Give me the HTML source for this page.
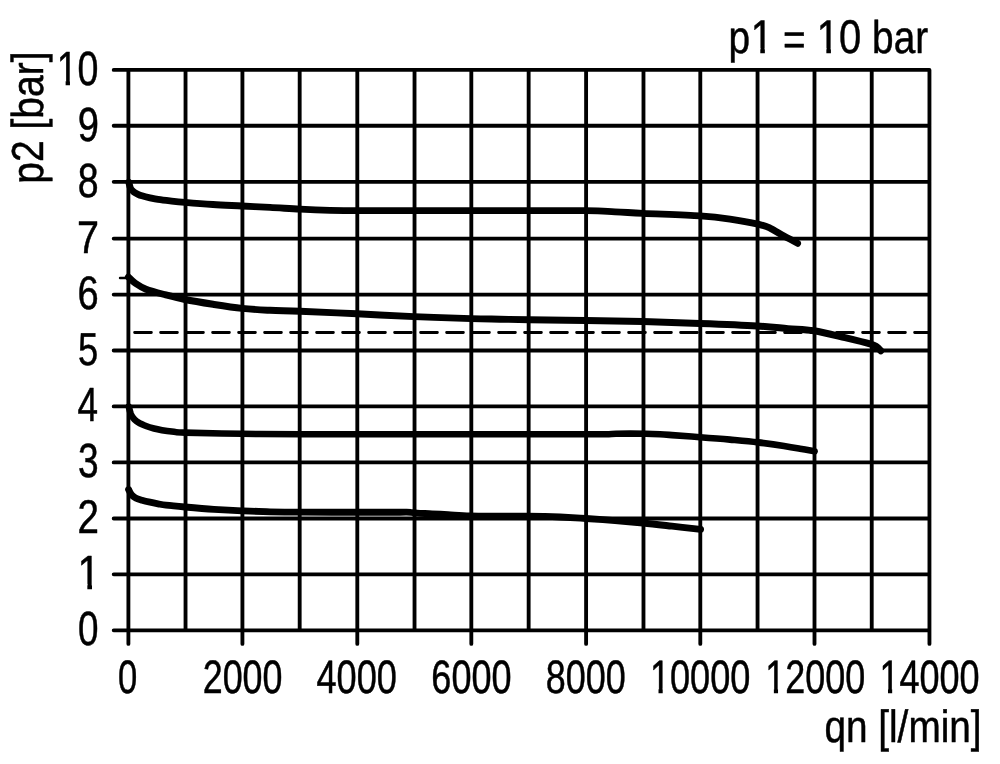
<!DOCTYPE html>
<html lang="en">
<head>
<meta charset="utf-8">
<title>p2 / qn flow characteristic</title>
<style>
html,body{margin:0;padding:0;background:#fff;}
body{width:1000px;height:764px;overflow:hidden;}
svg{display:block;}
text{font-family:"Liberation Sans",Arial,Helvetica,sans-serif;font-size:100px;fill:#000;stroke:#000;stroke-width:1.1px;stroke-linejoin:round;font-kerning:none;text-rendering:geometricPrecision;}
.g{stroke:#000;stroke-width:3.85;fill:none;stroke-linecap:round;}
.c{stroke:#000;fill:none;stroke-linecap:round;stroke-linejoin:round;}
.d{stroke:#000;stroke-width:2.8;fill:none;stroke-dasharray:16.8 9.2;stroke-linecap:round;}
.w{fill:#fff;}
</style>
</head>
<body>
<svg width="1000" height="764" viewBox="0 0 1000 764">
<rect width="1000" height="764" fill="#fff"/>
<path class="g" stroke-linejoin="round" d="M113.7 69.88 H929.45 V643.9 M113.7 125.73 H929.45 M113.7 181.87 H929.45 M113.7 238.60 H929.45 M113.7 294.55 H929.45 M113.7 350.50 H929.45 M113.7 406.40 H929.45 M113.7 462.40 H929.45 M113.7 518.45 H929.45 M113.7 574.35 H929.45 M113.7 630.37 H929.45 M128.40 69.88 V643.90 M185.53 69.88 V630.37 M242.42 69.88 V643.90 M299.68 69.88 V630.37 M357.30 69.88 V643.90 M414.53 69.88 V630.37 M471.32 69.88 V643.90 M528.65 69.88 V630.37 M586.10 69.88 V643.90 M643.48 69.88 V630.37 M700.30 69.88 V643.90 M757.55 69.88 V630.37 M814.50 69.88 V643.90 M871.73 69.88 V630.37"/>
<line class="d" x1="134.6" y1="332.5" x2="928.45" y2="332.5"/>
<line x1="120" y1="278" x2="128" y2="278" stroke="#000" stroke-width="2.4" stroke-linecap="round"/>
<path class="c" stroke-width="6.85" d="M128.8 182.2 C129.1 183.2 129.7 186.8 130.6 188.5 C131.5 190.2 132.8 191.2 134.0 192.2 C135.2 193.2 136.7 193.7 138.0 194.3 C139.3 194.9 140.0 195.2 142.0 195.8 C144.0 196.4 147.3 197.2 150.0 197.8 C152.7 198.4 154.7 198.9 158.0 199.4 C161.3 199.9 165.5 200.4 170.0 200.9 C174.5 201.4 177.8 201.8 185.0 202.4 C192.2 203.0 203.5 203.9 213.0 204.5 C222.5 205.1 232.5 205.5 242.0 206.0 C251.5 206.5 260.3 206.9 270.0 207.4 C279.7 207.9 290.0 208.7 300.0 209.2 C310.0 209.7 320.5 210.1 330.0 210.3 C339.5 210.5 345.3 210.6 357.0 210.6 C368.7 210.6 376.2 210.6 400.0 210.6 C423.8 210.6 469.0 210.6 500.0 210.6 C531.0 210.6 566.8 210.4 586.0 210.6 C605.2 210.8 605.5 211.4 615.0 211.8 C624.5 212.2 628.8 212.6 643.0 213.3 C657.2 214.0 685.5 214.9 700.0 215.9 C714.5 216.9 720.3 217.7 730.0 219.1 C739.7 220.5 751.3 222.6 758.0 224.1 C764.7 225.6 765.7 226.1 770.0 228.1 C774.3 230.1 779.4 233.6 784.0 236.1 C788.6 238.6 795.3 242.1 797.6 243.3"/>
<path class="c" stroke-width="6.95" d="M128.4 277.0 C129.5 278.0 132.1 281.0 135.0 283.0 C137.9 285.0 141.0 287.2 146.0 289.2 C151.0 291.1 158.5 293.0 165.0 294.7 C171.5 296.4 177.0 297.9 185.0 299.5 C193.0 301.1 203.5 302.8 213.0 304.3 C222.5 305.8 232.5 307.4 242.0 308.4 C251.5 309.4 260.3 309.8 270.0 310.3 C279.7 310.8 285.5 310.6 300.0 311.2 C314.5 311.8 338.0 312.9 357.0 313.8 C376.0 314.7 395.0 315.8 414.0 316.6 C433.0 317.4 456.7 318.2 471.0 318.6 C485.3 319.0 490.3 319.0 500.0 319.2 C509.7 319.4 514.7 319.5 529.0 319.7 C543.3 319.9 567.0 320.2 586.0 320.5 C605.0 320.8 624.0 321.0 643.0 321.5 C662.0 322.0 681.0 322.8 700.0 323.5 C719.0 324.2 742.3 325.1 757.0 326.0 C771.7 326.9 778.5 327.8 788.0 328.6 C797.5 329.4 804.5 329.3 814.0 330.8 C823.5 332.3 835.7 335.5 845.0 337.7 C854.3 339.9 864.8 342.4 870.0 343.9 C875.2 345.4 874.7 345.5 876.5 346.7 C878.3 347.9 880.1 350.1 880.8 350.8"/>
<path class="c" stroke-width="6.6" d="M128.8 406.5 C129.1 407.8 129.9 411.8 130.8 414.0 C131.8 416.2 133.0 417.9 134.5 419.5 C136.0 421.1 138.1 422.3 140.0 423.4 C141.9 424.5 143.7 425.1 146.0 426.0 C148.3 426.9 151.3 427.8 154.0 428.5 C156.7 429.2 158.7 429.6 162.0 430.2 C165.3 430.8 170.2 431.4 174.0 431.8 C177.8 432.2 173.7 432.3 185.0 432.6 C196.3 432.9 222.8 433.5 242.0 433.8 C261.2 434.1 273.7 434.2 300.0 434.3 C326.3 434.4 366.7 434.3 400.0 434.3 C433.3 434.3 469.0 434.3 500.0 434.3 C531.0 434.3 568.3 434.2 586.0 434.2 C603.7 434.2 601.0 434.3 606.0 434.2 C611.0 434.1 612.0 433.9 616.0 433.8 C620.0 433.7 625.0 433.6 630.0 433.6 C635.0 433.6 641.0 433.7 646.0 433.8 C651.0 433.9 655.7 434.1 660.0 434.3 C664.3 434.5 665.3 434.6 672.0 435.1 C678.7 435.6 690.3 436.4 700.0 437.2 C709.7 437.9 720.3 438.7 730.0 439.6 C739.7 440.5 749.0 441.3 758.0 442.4 C767.0 443.5 777.0 444.9 784.0 446.0 C791.0 447.1 794.9 447.8 800.0 448.7 C805.1 449.6 812.2 450.9 814.6 451.3"/>
<path class="c" stroke-width="6.85" d="M128.6 489.5 C129.1 490.4 130.3 493.4 131.5 494.8 C132.7 496.2 133.8 497.1 135.6 498.0 C137.3 498.9 139.6 499.5 142.0 500.2 C144.4 500.9 147.3 501.6 150.0 502.2 C152.7 502.8 155.3 503.3 158.0 503.8 C160.7 504.3 161.5 504.7 166.0 505.2 C170.5 505.7 177.0 506.3 185.0 507.0 C193.0 507.7 204.5 508.7 214.0 509.3 C223.5 509.9 232.7 510.4 242.0 510.8 C251.3 511.2 260.3 511.6 270.0 511.8 C279.7 512.0 285.0 512.1 300.0 512.2 C315.0 512.3 343.3 512.2 360.0 512.2 C376.7 512.2 391.5 512.2 400.0 512.2 C408.5 512.2 408.2 512.1 411.0 512.3 C413.8 512.4 413.5 512.9 417.0 513.1 C420.5 513.4 426.8 513.5 432.0 513.8 C437.2 514.0 441.7 514.2 448.0 514.6 C454.3 515.0 461.3 515.7 470.0 516.0 C478.7 516.3 490.3 516.2 500.0 516.2 C509.7 516.2 520.5 516.2 528.0 516.2 C535.5 516.2 539.7 516.3 545.0 516.4 C550.3 516.5 553.2 516.6 560.0 517.0 C566.8 517.4 576.8 517.9 586.0 518.5 C595.2 519.1 605.5 519.9 615.0 520.6 C624.5 521.4 633.5 522.1 643.0 523.0 C652.5 523.9 662.4 525.1 672.0 526.2 C681.6 527.3 695.8 528.9 700.6 529.4"/>
<g transform="translate(56.69 84.97) scale(0.3755 0.4784)"><text>10</text><rect class="w" x="3.87" y="-10.11" width="19.93" height="12.75"/><rect class="w" x="35.33" y="-10.11" width="19.14" height="12.75"/></g>
<g transform="translate(77.63 140.77) scale(0.3806 0.4798)"><text>9</text></g>
<g transform="translate(77.78 196.67) scale(0.3748 0.4784)"><text>8</text></g>
<g transform="translate(76.99 252.75) scale(0.3952 0.4578)"><text>7</text></g>
<g transform="translate(77.47 309.03) scale(0.3810 0.4708)"><text>6</text></g>
<g transform="translate(77.95 365.04) scale(0.3628 0.4621)"><text>5</text></g>
<g transform="translate(77.56 420.74) scale(0.3690 0.4807)"><text>4</text></g>
<g transform="translate(77.99 477.02) scale(0.3710 0.4805)"><text>3</text></g>
<g transform="translate(77.47 532.54) scale(0.3858 0.4737)"><text>2</text></g>
<g transform="translate(77.60 588.74) scale(0.4084 0.4807)"><text>1</text><rect class="w" x="4.13" y="-10.10" width="19.73" height="12.73"/><rect class="w" x="35.27" y="-10.10" width="18.95" height="12.73"/></g>
<g transform="translate(77.96 645.02) scale(0.3681 0.4805)"><text>0</text></g>
<g transform="translate(117.94 693.39) scale(0.3456 0.4680)"><text>0</text></g>
<g transform="translate(202.69 693.39) scale(0.3588 0.4680)"><text>2000</text></g>
<g transform="translate(316.42 693.39) scale(0.3618 0.4680)"><text>4000</text></g>
<g transform="translate(431.37 693.39) scale(0.3607 0.4680)"><text>6000</text></g>
<g transform="translate(545.69 693.39) scale(0.3593 0.4680)"><text>8000</text></g>
<g transform="translate(649.92 693.39) scale(0.3614 0.4680)"><text>10000</text><rect class="w" x="3.75" y="-10.16" width="20.02" height="12.84"/><rect class="w" x="35.36" y="-10.16" width="19.24" height="12.84"/></g>
<g transform="translate(765.34 693.39) scale(0.3590 0.4680)"><text>12000</text><rect class="w" x="3.72" y="-10.16" width="20.04" height="12.84"/><rect class="w" x="35.37" y="-10.16" width="19.26" height="12.84"/></g>
<g transform="translate(879.43 693.39) scale(0.3602 0.4680)"><text>14000</text><rect class="w" x="3.74" y="-10.16" width="20.03" height="12.84"/><rect class="w" x="35.37" y="-10.16" width="19.25" height="12.84"/></g>
<g transform="translate(728.41 52.84) scale(0.3880 0.4580)"><text>p<tspan font-size="103.0" dx="2.00">1</tspan><tspan dx="-2.00" xml:space="preserve"> </tspan><tspan dy="5.60">=</tspan><tspan dy="-5.60" xml:space="preserve"> </tspan><tspan font-size="103.0" dx="1.00">10</tspan><tspan xml:space="preserve"> bar</tspan></text><rect class="w" x="61.82" y="-10.43" width="20.37" height="13.16"/><rect class="w" x="93.94" y="-10.43" width="19.57" height="13.16"/><rect class="w" x="232.07" y="-10.43" width="20.37" height="13.16"/><rect class="w" x="264.19" y="-10.43" width="19.57" height="13.16"/></g>
<g transform="translate(824.39 742.09) scale(0.3874 0.4533)"><text>qn [l/min]</text></g>
<g transform="translate(42.85 183.80) rotate(-90) scale(0.3903 0.4485)"><text>p2 [bar]</text></g>
</svg>
</body>
</html>
